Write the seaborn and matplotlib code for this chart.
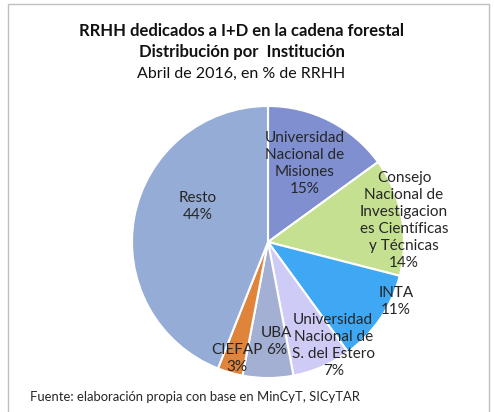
import seaborn as sns
import matplotlib.pyplot as plt
from matplotlib.patches import Rectangle

sns.set_style("white")
plt.rcParams['font.family'] = ['Lato', 'DejaVu Sans']

instituciones = ["Universidad\nNacional de\nMisiones", "Consejo\nNacional de\nInvestigacion\nes Científicas\ny Técnicas",
                 "INTA", "Universidad\nNacional de\nS. del Estero", "UBA", "CIEFAP", "Resto"]
porcentajes = [15, 14, 11, 7, 6, 3, 44]
colores = ["#7F8FD0", "#C4E090", "#3EA8F5", "#CFCBF7", "#A3AFD3", "#E0843C", "#95ACD6"]
# label centres, in units of the pie radius
label_xy = [(0.27, 0.58), (1.0, 0.16), (0.94, -0.44), (0.48, -0.76), (0.06, -0.73), (-0.23, -0.86), (-0.52, 0.26)]

fig = plt.figure(figsize=(4.94, 4.12), dpi=100)
fig.patches.append(Rectangle((8 / 494, -0.1), 481 / 494, 1.1 - 4 / 412, transform=fig.transFigure,
                             fill=False, edgecolor="#BFBFBF", linewidth=1))

ax = fig.add_axes([(268 - 136) / 494, (170 - 136) / 412, 272 / 494, 272 / 412])
wedges, _ = ax.pie(porcentajes, colors=colores, startangle=90, counterclock=False,
                   wedgeprops=dict(edgecolor="white", linewidth=1.5), radius=1)
ax.set_xlim(-1, 1)
ax.set_ylim(-1, 1)
ax.set_aspect("equal")
ax.axis("off")

for nombre, p, (x, y) in zip(instituciones, porcentajes, label_xy):
    ax.text(x, y, f"{nombre}\n{p}%", ha="center", va="center",
            fontsize=11, color="#262626", linespacing=1.27)

fig.text(241 / 494, 1 - 31 / 412, "RRHH dedicados a I+D en la cadena forestal", ha="center", va="center",
         fontsize=12, fontweight="bold", color="#111111")
fig.text(242 / 494, 1 - 52 / 412, "Distribución por  Institución", ha="center", va="center",
         fontsize=12, fontweight="bold", color="#111111")
fig.text(241 / 494, 1 - 74 / 412, "Abril de 2016, en % de RRHH", ha="center", va="center",
         fontsize=11.5, color="#111111")
fig.text(30 / 494, 1 - 397 / 412, "Fuente: elaboración propia con base en MinCyT, SICyTAR", ha="left", va="center",
         fontsize=9.4, color="#262626")

fig.savefig("out.png", dpi=100)
